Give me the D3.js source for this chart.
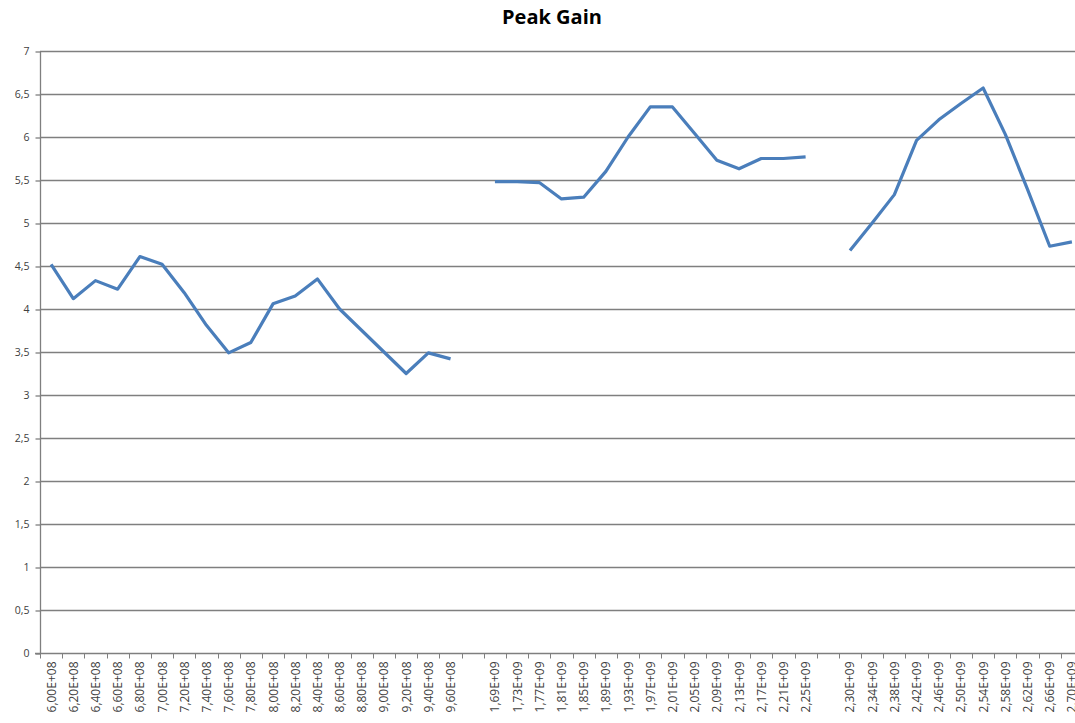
<!DOCTYPE html>
<html>
<head>
<meta charset="utf-8">
<script src="https://cdn.jsdelivr.net/npm/d3@7"></script>
<style>
  body { margin: 0; background: #fff; }
  svg { display: block; font-family: "Open Sans", "DejaVu Sans", sans-serif; }
</style>
</head>
<body>
<svg id="chart" width="1075" height="723"></svg>
<script>
// categorie sull'asse x (stringhe vuote = separatori tra i gruppi)
var categories = [
    '6,00E+08', '6,20E+08', '6,40E+08', '6,60E+08', '6,80E+08', '7,00E+08', '7,20E+08',
    '7,40E+08', '7,60E+08', '7,80E+08', '8,00E+08', '8,20E+08', '8,40E+08', '8,60E+08',
    '8,80E+08', '9,00E+08', '9,20E+08', '9,40E+08', '9,60E+08',
    '',
    '1,69E+09', '1,73E+09', '1,77E+09', '1,81E+09', '1,85E+09', '1,89E+09', '1,93E+09',
    '1,97E+09', '2,01E+09', '2,05E+09', '2,09E+09', '2,13E+09', '2,17E+09', '2,21E+09',
    '2,25E+09',
    '',
    '2,30E+09', '2,34E+09', '2,38E+09', '2,42E+09', '2,46E+09', '2,50E+09', '2,54E+09',
    '2,58E+09', '2,62E+09', '2,66E+09', '2,70E+09'
];
// valori Peak Gain (null = nessun punto)
var peakGain = [
    4.52, 4.12, 4.33, 4.23, 4.61, 4.52, 4.19, 3.81, 3.49, 3.61, 4.06, 4.15, 4.35, 4.0,
    3.75, 3.5, 3.25, 3.49, 3.42,
    null,
    5.48, 5.48, 5.47, 5.28, 5.3, 5.6, 6.0, 6.35, 6.35, 6.04, 5.73, 5.63, 5.75, 5.75,
    5.77,
    null,
    4.68, 5.0, 5.33, 5.96, 6.2, 6.39, 6.57, 6.03, 5.39, 4.73, 4.78
];
var yTicks = [0, 0.5, 1, 1.5, 2, 2.5, 3, 3.5, 4, 4.5, 5, 5.5, 6, 6.5, 7];

var svg = d3.select('#chart');
//l'area del grafico prosegue oltre il bordo destro, come nell'originale
var plotLeft = 40, plotRight = 1083, plotTop = 51, plotBottom = 653;

var x = d3.scaleBand()
    .domain(d3.range(categories.length))
    .range([plotLeft, plotRight])
    .padding(0);
var y = d3.scaleLinear().domain([0, 7]).range([plotBottom, plotTop]);

//titolo
svg.append('text')
    .attr('x', 552)
    .attr('y', 24)
    .attr('text-anchor', 'middle')
    .attr('font-size', 20)
    .attr('font-weight', 'bold')
    .attr('fill', '#000')
    .text('Peak Gain');

//griglia orizzontale
svg.append('g')
    .selectAll('line')
    .data(yTicks.filter(function (d) { return d > 0; }))
    .enter().append('line')
    .attr('x1', plotLeft)
    .attr('x2', 1075)
    .attr('y1', function (d) { return Math.round(y(d)) + 0.5; })
    .attr('y2', function (d) { return Math.round(y(d)) + 0.5; })
    .attr('stroke', '#7f7f7f')
    .attr('stroke-width', 1.3);

//asse y
var yAxis = svg.append('g')
    .attr('transform', 'translate(' + (plotLeft + 0.5) + ',0.5)')
    .call(d3.axisLeft(y).tickValues(yTicks).tickSize(5).tickPadding(6)
        .tickFormat(function (d) { return String(d).replace('.', ','); }));
yAxis.selectAll('path, line').attr('stroke', '#7f7f7f').attr('stroke-width', 1.3);
yAxis.select('.domain').attr('d', 'M0,' + plotTop + 'V' + plotBottom);
yAxis.selectAll('text').attr('fill', '#404040').attr('font-size', 10.5)
    .attr('font-family', '"Open Sans", sans-serif');

//asse x
var xAxis = svg.append('g')
    .attr('transform', 'translate(0,' + (plotBottom + 0.5) + ')');
xAxis.append('line')
    .attr('x1', plotLeft - 5).attr('x2', 1075)
    .attr('stroke', '#7f7f7f')
    .attr('stroke-width', 1.3);
xAxis.selectAll('line.tick')
    .data(d3.range(categories.length + 1))
    .enter().append('line')
    .attr('class', 'tick')
    .attr('x1', function (i) { return Math.round(plotLeft + i * x.bandwidth()) + 0.5; })
    .attr('x2', function (i) { return Math.round(plotLeft + i * x.bandwidth()) + 0.5; })
    .attr('y1', 0).attr('y2', 5)
    .attr('stroke', '#7f7f7f');
xAxis.selectAll('text')
    .data(categories)
    .enter().append('text')
    .attr('transform', function (d, i) {
        return 'translate(' + (x(i) + x.bandwidth() / 2 + 4.5) + ',8) rotate(-90)';
    })
    .attr('text-anchor', 'end')
    .attr('font-size', 12)
    .attr('fill', '#404040')
    .text(function (d) { return d; });

//linea dati
var line = d3.line()
    .defined(function (d) { return d != null; })
    .x(function (d, i) { return x(i) + x.bandwidth() / 2; })
    .y(function (d) { return y(d); });

svg.append('path')
    .datum(peakGain)
    .attr('d', line)
    .attr('fill', 'none')
    .attr('stroke', '#4a7ebb')
    .attr('stroke-width', 3.2)
    .attr('stroke-linejoin', 'round');
</script>
</body>
</html>
